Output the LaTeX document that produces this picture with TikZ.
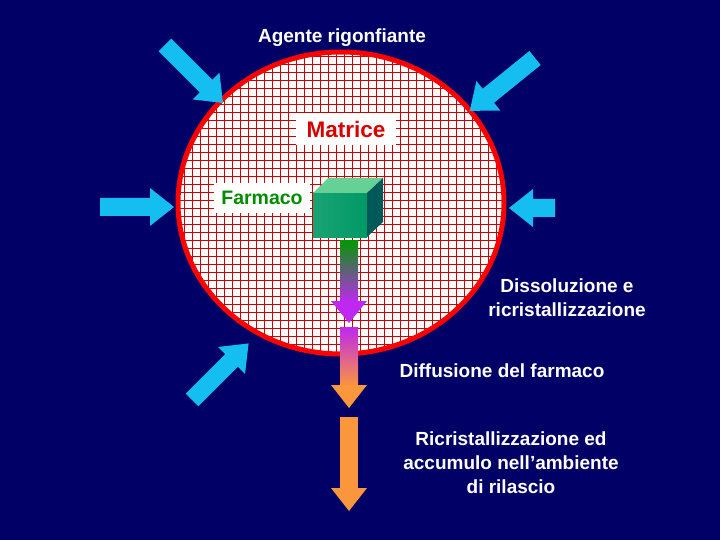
\documentclass[tikz,border=0pt]{standalone}
\usepackage{fontspec}
\setmainfont{Liberation Sans}
\begin{document}
\begin{tikzpicture}[x=1pt,y=-1pt,
  lbl/.style={text=white,font=\bfseries\fontsize{19}{24}\selectfont,align=center}]
\definecolor{bg}{RGB}{0,0,102}
\definecolor{cy}{RGB}{20,190,240}
\definecolor{vi}{RGB}{190,40,240}
\definecolor{or}{RGB}{250,150,60}
\fill[bg] (0,0) rectangle (720,540);
\useasboundingbox (0,0) rectangle (720,540);
% matrix
\fill[white] (341,203) ellipse [x radius=163, y radius=151];
\begin{scope}
\clip (341,203) ellipse [x radius=163, y radius=151];
\draw[red!80!black, line width=0.8pt] (170,45) grid[step=8pt] (510,360);
\end{scope}
\draw[red, line width=5pt] (341,203) ellipse [x radius=163, y radius=151];
% cyan arrows (tail at origin pointing along angle)
\newcommand{\blockarrow}[3]{%
 \fill[cy,shift={(#1)},rotate=#2] (0,-9) -- (#3-24,-9) -- (#3-24,-19) -- (#3,0) -- (#3-24,19) -- (#3-24,9) -- (0,9) -- cycle;}
\blockarrow{165,45}{-45}{82}
\blockarrow{535,58}{-141}{84}
\blockarrow{100,207}{0}{74}
\blockarrow{555,208}{180}{46}
\blockarrow{192,400}{45}{80}
% labels
\node[lbl] (agente) at (342,38) {Agente rigonfiante};
\node[fill=white,text=red!85!black,font=\bfseries\fontsize{22.5}{26}\selectfont,minimum width=100pt,minimum height=32pt] (matrice) at (346,129) {Matrice};
\node[fill=white,text=green!55!black,font=\bfseries\fontsize{19.5}{22}\selectfont,minimum width=96pt,minimum height=30pt,inner sep=2pt] (farmaco) at (262,198) {Farmaco};
% cube
\shade[left color=teal!80!green!90!white, right color=teal!80!green] (313,193) rectangle (367,237);
\fill[teal!60!green!60!white] (313,193) -- (328,178) -- (383,178) -- (367,193) -- cycle;
\fill[teal!70!black] (367,193) -- (383,178) -- (383,222) -- (367,237) -- cycle;
% vertical arrows
\shade[top color=green!60!black, bottom color=vi] (340,240) rectangle (358,302);
\fill[vi] (331,301) -- (367,301) -- (349,323) -- cycle;
\shade[top color=vi, bottom color=or] (340,327) rectangle (358,386);
\fill[or] (331,385) -- (367,385) -- (349,408) -- cycle;
\fill[or] (340,417) rectangle (358,489);
\fill[or] (331,488) -- (367,488) -- (349,511) -- cycle;
% texts
\node[lbl] (diss) at (567,298) {Dissoluzione e\\ricristallizzazione};
\node[lbl] (diff) at (502,371) {Diffusione del farmaco};
\node[lbl] (ricr) at (511,463) {Ricristallizzazione ed\\accumulo nell’ambiente\\di rilascio};
\end{tikzpicture}
\end{document}
